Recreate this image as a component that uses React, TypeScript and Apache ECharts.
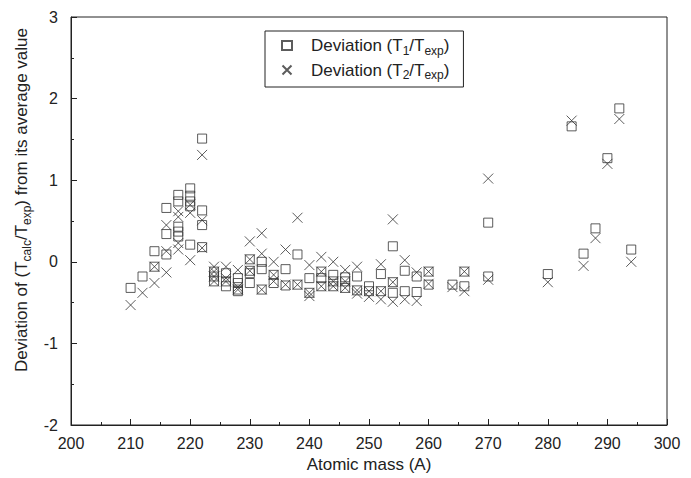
import React, { useEffect, useRef } from "react";
import * as echarts from "echarts";

// Atomic mass (A), deviation of T1/Texp
const t1Data: [number, number][] = [
  [210, -0.32], [212, -0.18], [214, 0.13], [214, -0.06],
  [216, 0.66], [216, 0.34], [216, 0.09],
  [218, 0.82], [218, 0.74], [218, 0.43], [218, 0.37], [218, 0.31],
  [220, 0.9], [220, 0.81], [220, 0.74], [220, 0.68], [220, 0.21],
  [222, 1.51], [222, 0.63], [222, 0.45], [222, 0.18],
  [224, -0.12], [224, -0.18], [224, -0.24],
  [226, -0.14], [226, -0.24], [226, -0.3],
  [228, -0.2], [228, -0.26], [228, -0.34], [228, -0.36],
  [230, 0.03], [230, -0.11], [230, -0.14], [230, -0.26],
  [232, 0.0], [232, -0.09], [232, -0.34],
  [234, -0.16], [234, -0.26],
  [236, -0.09], [236, -0.29],
  [238, 0.09], [238, -0.28],
  [240, -0.2], [240, -0.38],
  [242, -0.12], [242, -0.2], [242, -0.3],
  [244, -0.16], [244, -0.24], [244, -0.3],
  [246, -0.19], [246, -0.24], [246, -0.32],
  [248, -0.18], [248, -0.35],
  [250, -0.3], [250, -0.36],
  [252, -0.15], [252, -0.36],
  [254, 0.19], [254, -0.25], [254, -0.38],
  [256, -0.11], [256, -0.36],
  [258, -0.18], [258, -0.37],
  [260, -0.12], [260, -0.28],
  [264, -0.28],
  [266, -0.12], [266, -0.3],
  [270, 0.48], [270, -0.18],
  [280, -0.15],
  [284, 1.66], [286, 0.1], [288, 0.41], [290, 1.27], [292, 1.88], [294, 0.15],
];

// Atomic mass (A), deviation of T2/Texp
const t2Data: [number, number][] = [
  [210, -0.53], [212, -0.38], [214, -0.06], [214, -0.26],
  [216, 0.45], [216, 0.13], [216, -0.13],
  [218, 0.62], [218, 0.55], [218, 0.23], [218, 0.15],
  [220, 0.7], [220, 0.6], [220, 0.02],
  [222, 1.31], [222, 0.51], [222, 0.17],
  [224, -0.06], [224, -0.12], [224, -0.18], [224, -0.24],
  [226, -0.06], [226, -0.2], [226, -0.24],
  [228, -0.1], [228, -0.31], [228, -0.34],
  [230, 0.25], [230, 0.03], [230, -0.11],
  [232, 0.35], [232, 0.1], [232, -0.34],
  [234, 0.0], [234, -0.16], [234, -0.24],
  [236, 0.15], [236, -0.28],
  [238, 0.54], [238, -0.28],
  [240, -0.04], [240, -0.38], [240, -0.42],
  [242, 0.06], [242, -0.12], [242, -0.3],
  [244, 0.0], [244, -0.24], [244, -0.3],
  [246, -0.1], [246, -0.24], [246, -0.32],
  [248, -0.06], [248, -0.35], [248, -0.39],
  [250, -0.36], [250, -0.43],
  [252, -0.03], [252, -0.36], [252, -0.46],
  [254, 0.52], [254, -0.25], [254, -0.49],
  [256, 0.02], [256, -0.46],
  [258, -0.13], [258, -0.48],
  [260, -0.12], [260, -0.27],
  [264, -0.31],
  [266, -0.12], [266, -0.36],
  [270, 1.02], [270, -0.22],
  [280, -0.25],
  [284, 1.73], [286, -0.05], [288, 0.29], [290, 1.2], [292, 1.75], [294, 0.0],
];

const xRange = [200, 300];
const yRange = [-2, 3];
const seriesNames = ["T1", "T2"];

const FONT = "Liberation Sans, Arial, Helvetica, sans-serif";
const INK = "#222";
const X_PATH = "path://M0,0L10,10M0,10L10,0";

export default function App() {
  const ref = useRef<HTMLDivElement>(null);
  useEffect(() => {
    if (!ref.current) return;
    const chart = echarts.init(ref.current, null, { renderer: "svg" });
    const subRich = {
      n: { fontSize: 17, lineHeight: 22, fontFamily: FONT, color: INK },
      s: { fontSize: 12, lineHeight: 12, verticalAlign: "bottom", fontFamily: FONT, color: INK },
      g: { width: 14, lineHeight: 22 },
    };
    chart.setOption({
      animation: false,
      backgroundColor: "#fff",
      textStyle: { fontFamily: FONT, color: INK },
      grid: {
        left: 71,
        right: 24,
        top: 17,
        bottom: 52,
        show: true,
        borderColor: INK,
        borderWidth: 1,
        backgroundColor: "transparent",
      },
      legend: {
        left: 265,
        top: 31,
        orient: "vertical",
        padding: [6, 14, 6, 16],
        itemGap: 5,
        itemWidth: 10,
        itemHeight: 9,
        borderColor: INK,
        borderWidth: 1,
        data: seriesNames,
        formatter: (name: string) =>
          name === "T1"
            ? "{g|}{n|Deviation (T}{s|1}{n|/T}{s|exp}{n|)}"
            : "{g|}{n|Deviation (T}{s|2}{n|/T}{s|exp}{n|)}",
        textStyle: { rich: subRich },
      },
      xAxis: {
        type: "value",
        min: xRange[0],
        max: xRange[1],
        interval: 10,
        name: "Atomic mass (A)",
        nameLocation: "middle",
        nameGap: 31,
        nameTextStyle: { fontSize: 17, fontFamily: FONT, color: INK },
        axisLine: { onZero: false, lineStyle: { color: INK, width: 1 } },
        axisTick: { inside: true, length: 6, lineStyle: { color: INK } },
        minorTick: { show: true, splitNumber: 2, length: 3, lineStyle: { color: INK } },
        axisLabel: { fontSize: 16, color: INK, margin: 10, fontFamily: FONT },
        splitLine: { show: false },
      },
      yAxis: {
        type: "value",
        min: yRange[0],
        max: yRange[1],
        interval: 1,
        name: "{n|Deviation of (T}{s|calc}{n|/T}{s|exp}{n|) from its average value}",
        nameLocation: "middle",
        nameRotate: 90,
        nameGap: 35,
        nameTextStyle: { rich: subRich, padding: [0, 0, 0, 42] },
        axisLine: { onZero: false, lineStyle: { color: INK, width: 1 } },
        axisTick: { inside: true, length: 6, lineStyle: { color: INK } },
        minorTick: { show: true, splitNumber: 2, length: 3, lineStyle: { color: INK } },
        axisLabel: { fontSize: 16, color: INK, margin: 13, fontFamily: FONT },
        splitLine: { show: false },
      },
      series: [
        {
          name: "T1",
          type: "scatter",
          data: t1Data,
          symbol: "rect",
          symbolSize: 9,
          itemStyle: { color: "transparent", borderColor: "#333", borderWidth: 1 },
        },
        {
          name: "T2",
          type: "scatter",
          data: t2Data,
          symbol: X_PATH,
          symbolSize: 10,
          itemStyle: { color: "transparent", borderColor: "#333", borderWidth: 1 },
        },
      ],
    });
    return () => chart.dispose();
  }, []);
  return (
    <div
      ref={ref}
      style={{ position: "fixed", left: 0, top: 0, width: 691, height: 478, background: "#fff" }}
    />
  );
}
